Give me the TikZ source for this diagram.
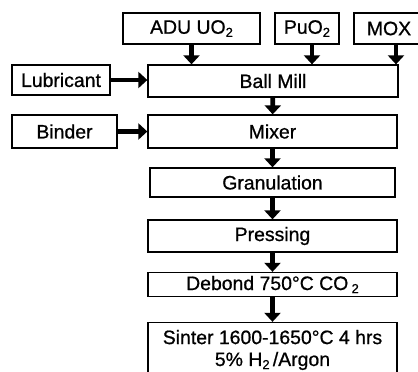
\documentclass[tikz,border=0pt]{standalone}
\usepackage{fontspec}
\setmainfont{Liberation Sans}[FakeBold=0.8]
\usetikzlibrary{arrows.meta}
\newcommand{\lowtwo}{\raisebox{-0.3ex}{\fontsize{13}{13}\selectfont 2}}
\tikzset{
 box/.style={draw,line width=1.3bp,inner sep=0pt,align=center,minimum height=#1},
 box/.default=32bp,
 flow/.style={line width=4.8bp,-{Triangle[length=9bp,width=16bp]}}
}
\begin{document}
\begin{tikzpicture}[x=1bp,y=-1bp,font=\fontsize{19.5}{22}\selectfont]
 \useasboundingbox (0,0) rectangle (418,372);
 \path 	(191.5,28.5) 	node[box=31bp,minimum width=137bp] (adu) {ADU UO\lowtwo}
 	(307,28.5) 	node[box=31bp,minimum width=64bp] (puo) {PuO\lowtwo}
 	(389,28.5) 	node[box=31bp,minimum width=70bp] (mox) {MOX}
 	(61,80) 	node[box=30bp,minimum width=98bp] (lub) {Lubricant}
 	(273,81) 	node[box,minimum width=250bp] (ball) {Ball Mill}
 	(64.5,131.5) 	node[box=33bp,minimum width=105bp] (binder) {Binder}
 	(272.5,131.5) 	node[box=33bp,minimum width=249bp] (mixer) {Mixer}
 	(272.5,182.5) 	node[box=29bp,minimum width=245bp] (gran) {Granulation}
 	(272.5,236) 	node[box,minimum width=249bp] (press) {Pressing}
 	(272.5,284.5) 	node[box=24bp,minimum width=249bp] (debond) {Debond 750°C CO\,\lowtwo}
 	(272.5,350) 	node[box=55bp,minimum width=249bp] (sinter) {Sinter 1600-1650°C 4 hrs\\5\% H\lowtwo\,/Argon};
 \draw[flow] (adu.south) -- (adu.south |- ball.north);
 \draw[flow] ([xshift=5bp]puo.south) -- ([xshift=5bp]puo.south |- ball.north);
 \draw[flow] ([xshift=7bp]mox.south) -- ([xshift=7bp]mox.south |- ball.north);
 \draw[flow] (lub.east) -- (lub.east -| ball.west);
 \draw[flow] (binder.east) -- (binder.east -| mixer.west);
 \draw[flow] (ball) -- (mixer);
 \draw[flow] (mixer) -- (gran);
 \draw[flow] (gran) -- (press);
 \draw[flow] (press) -- (debond);
 \draw[flow] (debond) -- (sinter);
\end{tikzpicture}
\end{document}
